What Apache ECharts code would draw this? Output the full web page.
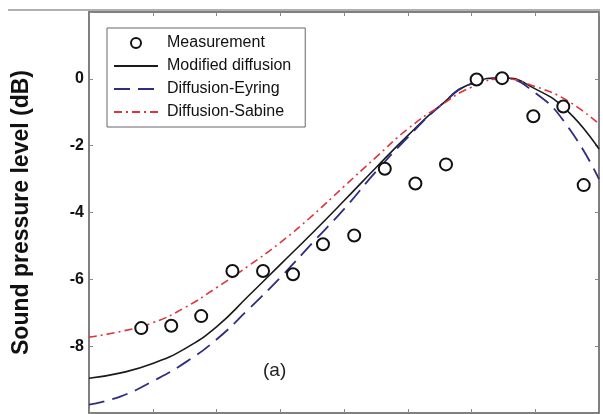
<!DOCTYPE html>
<html>
<head>
<meta charset="utf-8">
<script src="https://cdn.jsdelivr.net/npm/echarts@6/dist/echarts.min.js"></script>
<style>
  html, body { margin: 0; padding: 0; background: #fff; }
  #chart { width: 603px; height: 414px; }
</style>
</head>
<body>
<div id="chart"></div>
<script>
// x positions of the model curves
var xs = [0, 0.5, 1, 1.5, 2, 2.5, 3, 3.5, 4, 4.5, 5, 5.5, 6, 6.5, 7, 7.5, 8];
var modified = [-8.96, -8.8, -8.52, -8.08, -7.42, -6.5, -5.56, -4.62, -3.65, -2.66, -1.7, -0.82, -0.14, 0.03, -0.3, -0.95, -2.1];
var eyring = [-9.75, -9.5, -9.05, -8.5, -7.8, -6.9, -5.95, -4.92, -3.9, -2.78, -1.75, -0.82, -0.15, 0.0, -0.42, -1.4, -3.0];
var sabine = [-7.73, -7.56, -7.3, -6.85, -6.25, -5.6, -4.9, -4.1, -3.22, -2.35, -1.5, -0.82, -0.25, 0.0, -0.23, -0.65, -1.35];

// measured points
var measX = [0.82, 1.29, 1.76, 2.25, 2.73, 3.2, 3.67, 4.16, 4.64, 5.12, 5.6, 6.08, 6.48, 6.97, 7.44, 7.76];
var measY = [-7.46, -7.39, -7.1, -5.75, -5.75, -5.85, -4.95, -4.69, -2.69, -3.13, -2.56, -0.02, 0.02, -1.12, -0.83, -3.18];

var yTicks = [0, -2, -4, -6, -8];

function pairs(a, b) {
    return a.map(function (v, i) { return [v, b[i]]; });
}

var myChart = echarts.init(document.getElementById('chart'));
var font = 'Liberation Sans, Arial, sans-serif';
var frame = { show: true, onZero: false, lineStyle: { color: '#555', width: 1.5 } };
var ticksIn = { show: true, inside: true, length: 4, lineStyle: { color: '#888', width: 1 } };
var noDot = { opacity: 0, borderWidth: 0 };

var option = {
    animation: false,
    backgroundColor: '#fff',
    grid: { left: 89, right: 4, top: 12, bottom: 1 },
    graphic: [
        {
            type: 'line', z: 0,
            shape: { x1: 8, y1: 10, x2: 600, y2: 10 },
            style: { stroke: '#b0b0b0', lineWidth: 2 }
        },
        {
            type: 'text', left: 263, top: 361,
            style: { text: '(a)', font: '19px ' + font, fill: '#222' }
        }
    ],
    legend: {
        left: 107, top: 28,
        orient: 'vertical',
        itemWidth: 44, itemHeight: 10, itemGap: 7,
        padding: [7, 14, 7, 6],
        borderColor: '#666', borderWidth: 1, borderRadius: 0,
        backgroundColor: '#fff',
        textStyle: { fontFamily: font, fontSize: 16, lineHeight: 16, color: '#111', padding: [0, 0, 0, 4] },
        data: [
            { name: 'Measurement', itemStyle: { opacity: 1 } },
            { name: 'Modified diffusion', itemStyle: noDot },
            { name: 'Diffusion-Eyring', itemStyle: noDot },
            { name: 'Diffusion-Sabine', itemStyle: noDot }
        ]
    },
    xAxis: [
        {
            type: 'value', min: 0, max: 8, interval: 1, position: 'bottom',
            axisLine: frame, axisTick: ticksIn, axisLabel: { show: false }, splitLine: { show: false }
        },
        {
            type: 'value', min: 0, max: 8, interval: 1, position: 'top',
            axisLine: frame, axisTick: ticksIn, axisLabel: { show: false }, splitLine: { show: false }
        }
    ],
    yAxis: [
        {
            type: 'value', min: -10, max: 2, interval: 2, position: 'left',
            axisLine: frame, axisTick: ticksIn, splitLine: { show: false },
            axisLabel: {
                color: '#111', fontFamily: font, fontSize: 16, fontWeight: 'bold', margin: 5,
                formatter: function (v) { return yTicks.indexOf(v) >= 0 ? String(v) : ''; }
            },
            name: 'Sound pressure level (dB)',
            nameLocation: 'middle', nameGap: 56, nameRotate: 90,
            nameTextStyle: { color: '#111', fontFamily: font, fontSize: 23, fontWeight: 'bold' }
        },
        {
            type: 'value', min: -10, max: 2, interval: 2, position: 'right',
            axisLine: frame, axisTick: ticksIn, axisLabel: { show: false }, splitLine: { show: false }
        }
    ],
    series: [
        {
            name: 'Modified diffusion', type: 'line', smooth: true, symbol: 'none',
            data: pairs(xs, modified),
            lineStyle: { color: '#1a1a1a', width: 1.6 },
            itemStyle: { color: '#1a1a1a' }
        },
        {
            name: 'Diffusion-Eyring', type: 'line', smooth: true, symbol: 'none',
            data: pairs(xs, eyring),
            lineStyle: { color: '#2d2d86', width: 1.8, type: [16, 8] },
            itemStyle: { color: '#2d2d86' }
        },
        {
            name: 'Diffusion-Sabine', type: 'line', smooth: true, symbol: 'none',
            data: pairs(xs, sabine),
            lineStyle: { color: '#e0343c', width: 1.6, type: [8, 4, 2, 4] },
            itemStyle: { color: '#e0343c' }
        },
        {
            name: 'Measurement', type: 'scatter', symbol: 'emptyCircle', symbolSize: 12,
            data: pairs(measX, measY),
            itemStyle: { color: '#111', borderWidth: 2, opacity: 1 },
            z: 5
        }
    ]
};
myChart.setOption(option);
</script>
</body>
</html>
